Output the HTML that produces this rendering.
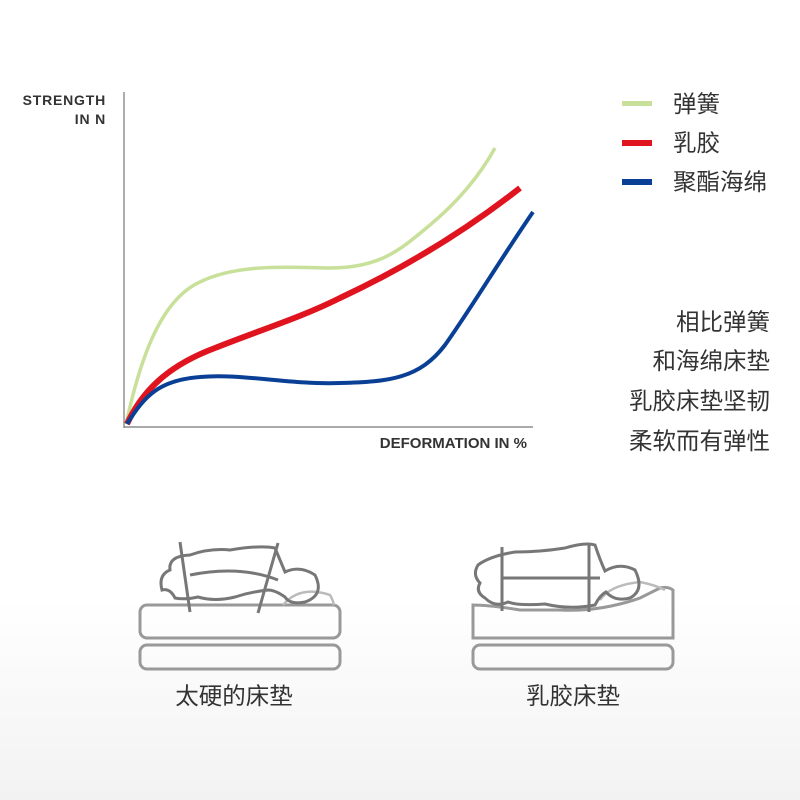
<!DOCTYPE html>
<html><head><meta charset="utf-8"><style>
body{margin:0;width:800px;height:800px;overflow:hidden;background:linear-gradient(to bottom,#fff 0,#fff 600px,#f2f2f2 800px);font-family:"Liberation Sans","Noto Sans CJK SC",sans-serif;}
</style></head><body>
<svg width="800" height="800" viewBox="0 0 800 800" xmlns="http://www.w3.org/2000/svg" style="position:absolute;left:0;top:0">
<g font-family="Liberation Sans, sans-serif" font-weight="bold" font-size="14" fill="#333">
<text x="106" y="105" text-anchor="end" letter-spacing="0.8">STRENGTH</text>
<text x="106" y="124" text-anchor="end" letter-spacing="0.8">IN N</text>
<text x="527" y="448" text-anchor="end" font-size="15">DEFORMATION IN %</text>
</g>
<line x1="124" y1="92" x2="124" y2="428" stroke="#777" stroke-width="1.2"/>
<line x1="124" y1="427" x2="533" y2="427" stroke="#777" stroke-width="1.2"/>
<path d="M126,424 C140,360 160,300 200,282 C240,262 300,268 330,268 C380,268 400,250 430,225 C460,200 480,175 495,148" fill="none" stroke="#c8e09a" stroke-width="3.5"/>
<path d="M127,424 C145,385 175,363 215,348 C260,330 300,318 340,298 C400,270 460,235 520,188" fill="none" stroke="#e0141e" stroke-width="6"/>
<path d="M127,424 C145,395 160,380 200,377 C240,373 290,385 340,383 C390,382 420,378 445,345 C470,310 500,260 533,212" fill="none" stroke="#0a3f96" stroke-width="4"/>
<rect x="622" y="101" width="30" height="5" fill="#c8e09a"/>
<rect x="622" y="140" width="30" height="6" fill="#e0141e"/>
<rect x="622" y="179" width="30" height="6" fill="#0a3f96"/>
<g font-family="Liberation Sans, Noto Sans CJK SC, sans-serif" font-size="23.5" fill="#333">
<text x="673" y="112">弹簧</text>
<text x="673" y="151">乳胶</text>
<text x="673" y="190">聚酯海绵</text>
<text x="770" y="330" text-anchor="end">相比弹簧</text>
<text x="770" y="369" text-anchor="end">和海绵床垫</text>
<text x="770" y="409" text-anchor="end">乳胶床垫坚韧</text>
<text x="770" y="449" text-anchor="end">柔软而有弹性</text>
<text x="234" y="704" text-anchor="middle">太硬的床垫</text>
<text x="573" y="704" text-anchor="middle">乳胶床垫</text>
</g>
<g fill="none" stroke="#999" stroke-width="3">
<rect x="140" y="605" width="200" height="33" rx="7"/>
<rect x="140" y="645" width="200" height="24" rx="7"/>
<path d="M473,605 L473,638 L673,638 L673,590 Q668,586 660,588 L640,598 Q600,612 560,610 L520,610 Q490,605 473,605Z"/>
<rect x="473" y="645" width="200" height="24" rx="7"/>
</g>
<g fill="none" stroke="#bbb" stroke-width="2.5">
<path d="M283,605 Q300,585 330,595 Q333,600 334,605"/>
<path d="M600,600 Q610,585 640,582 Q655,585 665,590"/>
</g>
<g fill="none" stroke="#777" stroke-width="3">
<path d="M190,555 Q210,548 230,550 Q260,545 275,548 Q280,560 285,572 Q300,565 315,575 Q325,595 305,602 Q290,605 285,597 Q275,590 268,590 Q250,592 235,597 Q215,602 198,597 Q185,600 175,598 Q170,588 162,590 Q158,575 170,570 Q168,556 190,555Z"/>
<path d="M190,575 Q240,565 278,580"/>
<line x1="180" y1="542" x2="190" y2="612"/>
<line x1="278" y1="543" x2="258" y2="613"/>
<path d="M515,552 Q540,552 565,548 Q585,542 595,545 Q600,560 605,571 Q620,562 635,570 Q645,590 630,598 Q615,602 606,592 Q600,595 595,605 Q570,610 545,604 Q520,606 508,602 Q495,608 485,598 Q475,592 480,583 Q472,575 478,565 Q490,556 515,552Z"/>
<line x1="502" y1="578" x2="600" y2="578"/>
<line x1="502" y1="547" x2="502" y2="611"/>
<line x1="589" y1="543" x2="589" y2="612"/>
</g>
</svg>
</body></html>
